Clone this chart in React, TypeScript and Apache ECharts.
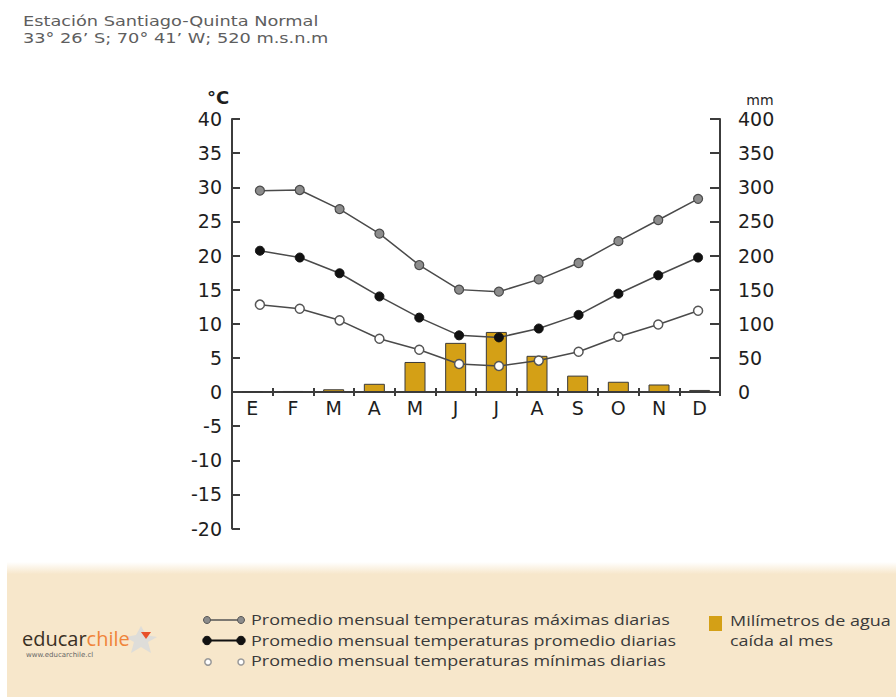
import React, { useEffect, useRef } from "react";
import * as echarts from "echarts";

// ---- data ----
const months = ["E", "F", "M", "A", "M", "J", "J", "A", "S", "O", "N", "D"];
const tempMax = [29.5, 29.6, 26.8, 23.2, 18.6, 15.0, 14.7, 16.5, 18.9, 22.1, 25.2, 28.3];
const tempMean = [20.7, 19.7, 17.4, 14.0, 10.9, 8.3, 8.0, 9.3, 11.3, 14.4, 17.1, 19.7];
const tempMin = [12.8, 12.2, 10.5, 7.8, 6.2, 4.1, 3.8, 4.6, 5.9, 8.1, 9.9, 11.9];
const precipitation = [0.5, 1.5, 4, 12, 44, 72, 88, 53, 24, 15, 11, 3];

const tempAxis = { min: -20, max: 40, interval: 5 };
const precipAxis = { min: 0, max: 400, interval: 50 };

const titleLines = ["Estación Santiago-Quinta Normal", "33° 26’ S; 70° 41’ W; 520 m.s.n.m"];
const legendTexts = [
  "Promedio mensual temperaturas máximas diarias",
  "Promedio mensual temperaturas promedio diarias",
  "Promedio mensual temperaturas mínimas diarias",
];
const precipLegend = ["Milímetros de agua", "caída al mes"];

const AXIS_COLOR = "#3c3c3c";
const LINE_COLOR = "#4a4a4a";
const GOLD = "#D4A016";
const AXIS_FONT = "DejaVu Sans";
const LEGEND_FONT = "Open Sans";

export default function App() {
  const ref = useRef<HTMLDivElement>(null);

  useEffect(() => {
    document.body.style.margin = "0";
    if (!ref.current) return;
    const chart = echarts.init(ref.current, undefined, { renderer: "svg" });

    const axisLabel = { color: "#1e1e1e", fontSize: 19, fontFamily: AXIS_FONT };
    const tickStyle = { color: AXIS_COLOR, width: 2 };

    const lineSeries = (name: string, data: number[], fill: string, border: string, bw: number) => ({
      name,
      type: "line",
      xAxisIndex: 2,
      yAxisIndex: 2,
      data,
      symbol: "circle",
      symbolSize: 9,
      z: 5,
      lineStyle: { color: LINE_COLOR, width: 1.5 },
      itemStyle: { color: fill, borderColor: border, borderWidth: bw },
    });

    const legendY = [620, 640.5, 661];
    const precipY = [621, 641];
    const titleY = [21, 38.5];

    const stretchedText = (text: string, x: number, y: number, font: string, fill: string, sx: number) => ({
      type: "text",
      x,
      y,
      scaleX: sx,
      style: { text, fill, font, textVerticalAlign: "middle" },
    });

    const option: any = {
      animation: false,
      backgroundColor: "#ffffff",
      grid: [
        { left: 232, top: 119, width: 488, height: 409.5 },
        { left: 232, top: 119, width: 488, height: 273 },
        { left: 240, top: 119, width: 478, height: 409.5 },
        { left: 232, top: 119, width: 488, height: 273 },
      ],
      xAxis: [
        { gridIndex: 0, type: "category", data: months, show: false },
        {
          gridIndex: 1,
          type: "category",
          data: months,
          boundaryGap: true,
          axisLine: { show: true, lineStyle: tickStyle },
          axisTick: { show: true, length: 4, lineStyle: tickStyle },
          axisLabel: { ...axisLabel, margin: 6 },
          splitLine: { show: false },
        },
        { gridIndex: 2, type: "category", data: months, show: false },
        {
          gridIndex: 3,
          type: "category",
          data: months,
          boundaryGap: true,
          axisLine: { show: false },
          axisTick: { show: true, inside: true, length: 4, lineStyle: tickStyle },
          axisLabel: { show: false },
          splitLine: { show: false },
        },
      ],
      yAxis: [
        {
          gridIndex: 0,
          type: "value",
          position: "left",
          ...tempAxis,
          axisLine: { show: true, lineStyle: tickStyle },
          axisTick: { show: true, inside: true, length: 8, lineStyle: tickStyle },
          axisLabel: { ...axisLabel, margin: 10 },
          splitLine: { show: false },
        },
        {
          gridIndex: 1,
          type: "value",
          position: "right",
          ...precipAxis,
          axisLine: { show: true, lineStyle: tickStyle },
          axisTick: { show: true, inside: true, length: 10, lineStyle: tickStyle },
          axisLabel: { ...axisLabel, margin: 18 },
          splitLine: { show: false },
        },
        { gridIndex: 2, type: "value", ...tempAxis, show: false, splitLine: { show: false } },
        { gridIndex: 3, type: "value", ...precipAxis, show: false, splitLine: { show: false } },
      ],
      series: [
        {
          name: "Milímetros de agua caída al mes",
          type: "bar",
          xAxisIndex: 1,
          yAxisIndex: 1,
          data: precipitation,
          barWidth: 21,
          itemStyle: { color: GOLD, borderColor: "#3a3a3a", borderWidth: 1 },
          z: 2,
        },
        lineSeries(legendTexts[0], tempMax, "#8c8c8c", "#4a4a4a", 1.2),
        lineSeries(legendTexts[1], tempMean, "#111111", "#111111", 1),
        lineSeries(legendTexts[2], tempMin, "#ffffff", "#555555", 1.5),
      ],
      graphic: [
        {
          type: "rect",
          z: -10,
          silent: true,
          shape: { x: 7, y: 562, width: 889, height: 135 },
          style: {
            fill: new echarts.graphic.LinearGradient(0, 0, 0, 1, [
              { offset: 0, color: "#ffffff" },
              { offset: 0.09, color: "#F7E7CB" },
              { offset: 1, color: "#F7E7CB" },
            ]),
          },
        },
        // title
        ...titleLines.map((t, i) => stretchedText(t, 23, titleY[i], `14.8px "${AXIS_FONT}"`, "#5e5e5e", 1.2)),
        // units
        {
          type: "text",
          x: 218,
          y: 97,
          style: {
            text: "°C",
            fill: "#1e1e1e",
            font: `bold 18px "${AXIS_FONT}"`,
            textAlign: "center",
            textVerticalAlign: "middle",
          },
        },
        {
          type: "text",
          x: 760,
          y: 100,
          style: {
            text: "mm",
            fill: "#1e1e1e",
            font: `14px "${AXIS_FONT}"`,
            textAlign: "center",
            textVerticalAlign: "middle",
          },
        },
        // legend icons: max
        { type: "line", shape: { x1: 207, y1: legendY[0], x2: 241, y2: legendY[0] }, style: { stroke: "#555", lineWidth: 1.5 } },
        { type: "circle", shape: { cx: 207, cy: legendY[0], r: 3.5 }, style: { fill: "#8c8c8c", stroke: "#555", lineWidth: 1 } },
        { type: "circle", shape: { cx: 241, cy: legendY[0], r: 3.5 }, style: { fill: "#8c8c8c", stroke: "#555", lineWidth: 1 } },
        // mean
        { type: "line", shape: { x1: 207, y1: legendY[1], x2: 241, y2: legendY[1] }, style: { stroke: "#111", lineWidth: 2 } },
        { type: "circle", shape: { cx: 207, cy: legendY[1], r: 4.2 }, style: { fill: "#111", stroke: "#111", lineWidth: 1 } },
        { type: "circle", shape: { cx: 241, cy: legendY[1], r: 4.2 }, style: { fill: "#111", stroke: "#111", lineWidth: 1 } },
        // min
        { type: "circle", shape: { cx: 208, cy: legendY[2] + 1, r: 3.2 }, style: { fill: "#fff", stroke: "#999", lineWidth: 1.5 } },
        { type: "circle", shape: { cx: 241, cy: legendY[2] + 1, r: 3 }, style: { fill: "#fff", stroke: "#999", lineWidth: 1.5 } },
        ...legendTexts.map((t, i) => stretchedText(t, 251, legendY[i], `14.6px "${LEGEND_FONT}"`, "#3a3a3a", 1.23)),
        // precipitation legend
        { type: "rect", shape: { x: 709, y: 616, width: 13, height: 15 }, style: { fill: GOLD } },
        ...precipLegend.map((t, i) => stretchedText(t, 730, precipY[i], `14.6px "${LEGEND_FONT}"`, "#3a3a3a", 1.23)),
        // logo
        {
          type: "polygon",
          shape: {
            points: [
              [141, 626], [146, 635], [157, 637], [148, 642], [151, 653], [141, 647], [131, 653], [134, 642], [125, 637], [136, 635],
            ],
          },
          style: { fill: "#d3d8de", opacity: 0.7 },
        },
        {
          type: "text",
          x: 22,
          y: 638,
          style: {
            text: "{a|educar}{b|chile}",
            textVerticalAlign: "middle",
            rich: {
              a: { fill: "#3a3024", fontSize: 20, fontFamily: LEGEND_FONT, lineHeight: 22 },
              b: { fill: "#F0843A", fontSize: 20, fontFamily: LEGEND_FONT, lineHeight: 22 },
            },
          },
        },
        {
          type: "polygon",
          shape: { points: [[141, 632], [151, 632], [146, 639]] },
          style: { fill: "#E8502A" },
        },
        {
          type: "text",
          x: 26,
          y: 651,
          style: { text: "www.educarchile.cl", fill: "#666", font: `7px "${AXIS_FONT}"` },
        },
      ],
    };

    chart.setOption(option);
    return () => chart.dispose();
  }, []);

  return <div ref={ref} style={{ width: 896, height: 697 }} />;
}
